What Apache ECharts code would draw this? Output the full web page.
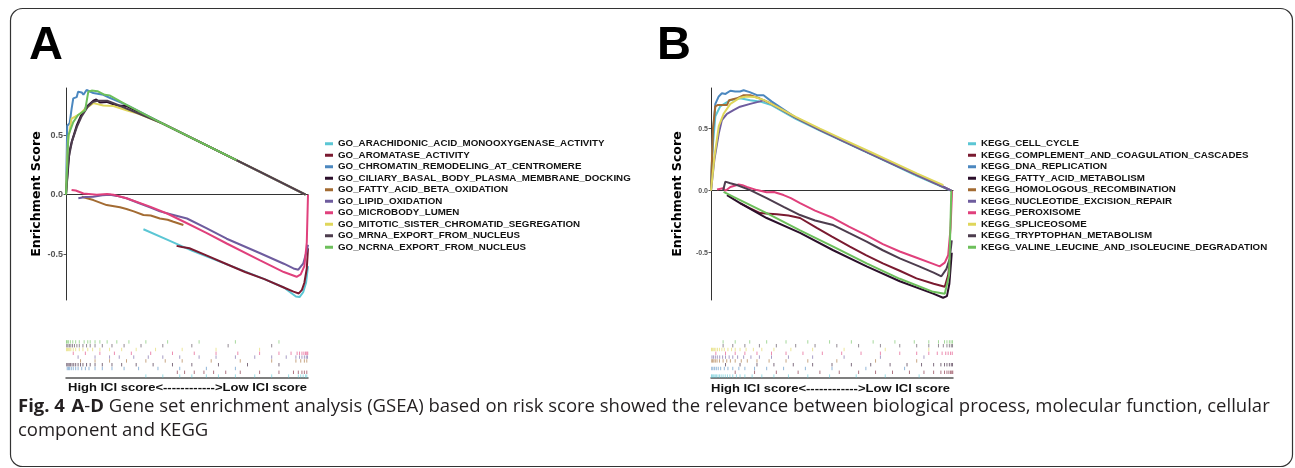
<!DOCTYPE html>
<html>
<head>
<meta charset="utf-8">
<script src="https://cdn.jsdelivr.net/npm/echarts@6/dist/echarts.min.js"></script>
<style>html,body{margin:0;padding:0;background:#fff;}#c{width:1295px;height:468px;}</style>
</head>
<body>
<div id="c"></div>
<script>
// ---------- DATA (x = rank position in %, y = enrichment score) ----------
const namesA = ['GO_ARACHIDONIC_ACID_MONOOXYGENASE_ACTIVITY','GO_AROMATASE_ACTIVITY','GO_CHROMATIN_REMODELING_AT_CENTROMERE','GO_CILIARY_BASAL_BODY_PLASMA_MEMBRANE_DOCKING','GO_FATTY_ACID_BETA_OXIDATION','GO_LIPID_OXIDATION','GO_MICROBODY_LUMEN','GO_MITOTIC_SISTER_CHROMATID_SEGREGATION','GO_MRNA_EXPORT_FROM_NUCLEUS','GO_NCRNA_EXPORT_FROM_NUCLEUS'];
const namesB = ['KEGG_CELL_CYCLE','KEGG_COMPLEMENT_AND_COAGULATION_CASCADES','KEGG_DNA_REPLICATION','KEGG_FATTY_ACID_METABOLISM','KEGG_HOMOLOGOUS_RECOMBINATION','KEGG_NUCLEOTIDE_EXCISION_REPAIR','KEGG_PEROXISOME','KEGG_SPLICEOSOME','KEGG_TRYPTOPHAN_METABOLISM','KEGG_VALINE_LEUCINE_AND_ISOLEUCINE_DEGRADATION'];
const palette = ['#5bc6d4','#7a1a30','#4b87bf','#2b0f2b','#a36b32','#6e5c9e','#e0407c','#dfd65a','#4d3d4e','#6dbf5b'];
const yTicks = [-0.5, 0, 0.5];

const goArachidonic = [[32,-0.29],[42,-0.38],[52,-0.47],[62,-0.55],[72,-0.63],[82,-0.71],[90,-0.78],[95,-0.855],[96.5,-0.86],[98,-0.82],[99.2,-0.74],[100,-0.6]];
const goAromatase = [[45.7,-0.43],[48,-0.44],[51,-0.45],[58,-0.51],[66,-0.58],[74,-0.65],[82,-0.71],[90,-0.78],[94,-0.815],[96.2,-0.83],[97.5,-0.8],[98.5,-0.74],[99.5,-0.62],[100,-0.45]];
const goChromatin = [[0,0],[0.5,0.58],[1.5,0.6],[2.3,0.72],[3,0.81],[4.4,0.82],[5,0.865],[6.5,0.86],[7.2,0.84],[8.5,0.88],[11.3,0.855],[15.4,0.84],[18,0.815],[25,0.755],[40,0.598],[60,0.396],[80,0.194],[99,0]];
const goCiliary = [[0,0],[1.4,0.36],[2.3,0.44],[4.4,0.58],[6.5,0.68],[8.5,0.74],[11.3,0.79],[12.5,0.80],[14,0.775],[16.8,0.78],[21,0.75],[25,0.745],[40,0.598],[60,0.396],[80,0.194],[99,0]];
const goFattyBeta = [[6.5,-0.017],[11.3,-0.045],[16.8,-0.087],[22.3,-0.106],[25,-0.12],[28,-0.14],[32,-0.17],[35,-0.175],[38.8,-0.2],[42,-0.21],[44.4,-0.227],[48.5,-0.255]];
const goLipid = [[5.1,-0.03],[8,-0.02],[11.3,-0.017],[15,-0.005],[18.2,0],[21,-0.01],[25,-0.03],[30,-0.07],[34.7,-0.106],[38.8,-0.14],[44.4,-0.17],[50,-0.2],[58,-0.28],[66.4,-0.37],[80,-0.49],[90,-0.58],[94,-0.62],[96,-0.63],[98,-0.58],[99.4,-0.48],[100,-0.42]];
const goMicrobody = [[2.3,0.04],[4,0.035],[7.2,0.01],[12.7,0],[17,0.005],[17.5,0.02],[19.6,0],[25,-0.03],[34.7,-0.1],[42,-0.16],[50,-0.24],[58,-0.32],[66.4,-0.41],[80,-0.55],[90,-0.65],[95.3,-0.69],[97,-0.67],[98.5,-0.6],[99.5,-0.4],[100,0]];
const goMitotic = [[0,0],[0.8,0.45],[2.3,0.64],[5.8,0.68],[7.9,0.72],[11.3,0.77],[15.4,0.75],[19.6,0.746],[25,0.71],[30,0.68],[40,0.598],[60,0.396],[80,0.194],[99,0]];
const goMrna = [[0,0],[1,0.3],[2.5,0.45],[4.5,0.57],[6.5,0.66],[9,0.74],[11,0.78],[13,0.79],[17,0.79],[22,0.75],[40,0.598],[60,0.396],[80,0.194],[99,0]];
const goNcrna = [[0,0],[1,0.5],[3,0.61],[5,0.67],[7.9,0.71],[9.2,0.865],[10.6,0.875],[13,0.87],[16,0.84],[18,0.835],[25,0.755],[40,0.598],[60,0.396],[70.5,0.29]];

const keggCellCycle = [[0,0],[0.5,0.3],[1.8,0.6],[3.8,0.68],[8,0.73],[12,0.745],[16.2,0.73],[20,0.72],[25,0.69],[35,0.58],[45,0.485],[55,0.393],[65,0.303],[75,0.213],[85,0.12],[95,0.035],[99.3,0]];
const keggComplement = [[12,-0.1],[16,-0.14],[20.3,-0.18],[24,-0.185],[27.2,-0.19],[32,-0.2],[36.8,-0.22],[43.7,-0.3],[50,-0.37],[57.4,-0.45],[64,-0.52],[71,-0.586],[78,-0.645],[84.9,-0.707],[92,-0.75],[96.6,-0.774],[98,-0.68],[98.8,-0.56]];
const keggDna = [[0,0],[0.8,0.46],[1.8,0.7],[3.2,0.76],[4.5,0.785],[6,0.78],[8,0.806],[10,0.8],[12,0.8],[13.5,0.81],[16,0.795],[19,0.77],[21.7,0.77],[25,0.72],[35,0.59],[45,0.49],[55,0.397],[65,0.307],[75,0.217],[85,0.127],[95,0.04],[99.3,0]];
const keggFatty = [[6.6,-0.035],[12,-0.1],[23,-0.22],[36.8,-0.34],[50.5,-0.48],[64.3,-0.61],[78,-0.73],[91.8,-0.83],[95.9,-0.863],[97.5,-0.85],[98.5,-0.75],[99.5,-0.5]];
const keggHomologous = [[0,0],[0.8,0.5],[1.8,0.68],[2.7,0.69],[6.6,0.69],[7.5,0.73],[10.7,0.745],[13.5,0.77],[16.2,0.77],[20,0.745],[25,0.7],[35,0.59],[45,0.49],[55,0.397],[65,0.307],[75,0.217],[85,0.127],[95,0.04],[99.3,0]];
const keggNucleotide = [[0,0],[1.4,0.25],[3.2,0.46],[4.5,0.57],[6.6,0.62],[9.3,0.65],[12,0.677],[16.2,0.7],[20.3,0.72],[21.7,0.73],[25,0.7],[35,0.59],[45,0.49],[55,0.397],[65,0.307],[75,0.217],[85,0.127],[95,0.04],[99.3,0]];
const keggPeroxisome = [[2.5,0.01],[5,0.02],[6,0],[8,0.03],[11.4,0.05],[13,0.045],[14.8,0.03],[19,0.005],[23,-0.013],[26,-0.01],[30,-0.035],[33,-0.06],[36.8,-0.1],[43,-0.16],[50.5,-0.22],[57,-0.29],[64.3,-0.36],[71,-0.43],[78,-0.49],[85,-0.54],[91.8,-0.59],[94.5,-0.61],[96.6,-0.58],[98,-0.52],[99,-0.3],[99.6,0]];
const keggSpliceosome = [[0,0],[1.4,0.27],[3.2,0.52],[5.2,0.62],[8,0.7],[12,0.75],[14.8,0.76],[18,0.755],[22,0.73],[25,0.7],[35,0.595],[45,0.5],[55,0.41],[65,0.32],[75,0.23],[85,0.14],[96,0.045]];
const keggTryptophan = [[5,0],[5.9,0.073],[8,0.06],[10.7,0.046],[16.2,0.005],[23,-0.06],[30,-0.13],[36.8,-0.196],[43,-0.24],[50.5,-0.277],[57,-0.34],[64.3,-0.41],[71,-0.48],[78,-0.546],[86,-0.61],[92,-0.66],[95.2,-0.69],[97.3,-0.63],[98.6,-0.55],[99.5,-0.4]];
const keggValine = [[5.2,-0.01],[9.3,-0.05],[23,-0.18],[36.8,-0.32],[50.5,-0.45],[64.3,-0.586],[78,-0.71],[91.8,-0.815],[96.6,-0.83],[98.4,-0.68],[99.3,0]];

// rug (hit positions in %), one list per gene set, same order as the legend
const rugA = [
  [33,40,47,52,58,63,70,78,85,92,96,97,98,99,99.5],
  [46,49,53,57,61,66,72,80,88,94,96,97.5,98.5,99.5],
  [0.5,1,1.5,2.2,3,4,5,6.5,8,9.5,12,15,19,24,30,38,47,58,70],
  [0.3,0.8,1.3,1.8,2.5,3.2,4,5,6,7,8.5,10,12,15,19,23,29,36,44,52,63,75,88],
  [6,12,18,25,33,41,48,60,72,85,95,97,98.5,99.5],
  [5,12,18,22,28,34,40,47,55,62,70,78,85,91,95,96.5,97.5,98.5,99.3,99.8],
  [3,8,14,20,27,35,44,53,62,71,80,88,93,95.5,96.5,97.5,98.3,99,99.5,99.9],
  [0.2,0.6,1,1.5,2,3,4,5.5,7,9,11,14,18,23,29,37,48,62,80],
  [0.3,0.8,1.4,2,2.7,3.5,4.5,5.5,7,8.5,10,12,15,19,24,31,40,52,67,85],
  [0.2,0.5,1,1.8,2.8,4,5.5,7.5,9,10,12,14,17,21,26,33,42,55,70,88]
];
const rugB = [
  [0.2,0.5,0.9,1.3,1.8,2.3,2.9,3.5,4.2,5,5.9,6.8,7.8,9,10.5,12,14,17,21,26,32,40,49,60,72,86],
  [10,18,27,36,45,53,61,68,75,82,88,92,95,96.5,97.5,98.3,99,99.5,99.9],
  [0.3,0.8,1.5,2.2,3,4,5.5,7,9,11.5,14,18,23,30,39,50,64,80],
  [6,12,19,26,34,42,50,58,66,74,81,87,92,95,96.5,97.5,98.5,99.3,99.8],
  [0.3,0.7,1.2,1.8,2.5,3.5,5,6.5,8,10,12.5,15,19,24,31,40,52,68,85],
  [0.4,1,1.8,2.6,3.6,4.8,6,7.5,9,11,13.5,16.5,20,25,32,42,55,70,88],
  [2,6,10,14,19,25,31,38,46,54,62,70,78,85,90,93.5,95.5,97,98,99,99.7],
  [0.2,0.5,0.9,1.4,2,2.7,3.5,4.5,5.5,7,8.5,10,12,14.5,17.5,21,26,33,42,55,72,90],
  [5,9,14,20,27,35,43,52,61,70,78,85,90,94,96,97.5,98.5,99.3,99.8],
  [5,10,16,23,31,40,49,58,67,76,84,90,94,96.5,97.5,98.5,99.2,99.8]
];

const linesA = [goArachidonic,goAromatase,goChromatin,goCiliary,goFattyBeta,goLipid,goMicrobody,goMitotic,goMrna,goNcrna];
const linesB = [keggCellCycle,keggComplement,keggDna,keggFatty,keggHomologous,keggNucleotide,keggPeroxisome,keggSpliceosome,keggTryptophan,keggValine];
const iciLabel = 'High ICI score<------------>Low ICI score';

// ---------- CHART ----------
const chart = echarts.init(document.getElementById('c'), null, {renderer:'canvas'});

function yAxisFor(gi, min, max, fs, gap) {
  return {
    type:'value', gridIndex:gi, min:min, max:max,
    name:'Enrichment Score', nameLocation:'middle', nameGap:gap,
    nameTextStyle:{fontFamily:'DejaVu Sans', fontWeight:'bold', fontSize:12.6, color:'#000'},
    axisLine:{show:true, lineStyle:{color:'#333', width:1}},
    axisTick:{show:true, length:2.5, lineStyle:{color:'#555'}, customValues:yTicks},
    axisLabel:{show:true, customValues:yTicks, margin:3, fontFamily:'Liberation Sans', fontWeight:'bold', fontSize:fs, color:'#555',
      formatter:v => v.toFixed(1)},
    splitLine:{show:false}
  };
}
function xAxisFor(gi) {
  return {type:'value', gridIndex:gi, min:0, max:100,
    axisLine:{show:true, onZero:true, lineStyle:{color:'#333', width:1.1}},
    axisTick:{show:false}, axisLabel:{show:false}, splitLine:{show:false}};
}
function rugX(gi) {
  return {type:'value', gridIndex:gi, min:0, max:100, position:'bottom',
    axisLine:{show:true, onZero:false, lineStyle:{color:'#555', width:1.5}},
    axisTick:{show:false}, axisLabel:{show:false}, splitLine:{show:false}};
}
function rugY(gi) {
  return {type:'value', gridIndex:gi, min:0, max:10, show:false};
}

const series = [];
linesA.forEach((d,i) => series.push({type:'line', name:namesA[i], xAxisIndex:0, yAxisIndex:0, data:d,
  showSymbol:false, symbol:'none', lineStyle:{width:2, color:palette[i]}, itemStyle:{color:palette[i]}, z:2+i}));
linesB.forEach((d,i) => series.push({type:'line', name:namesB[i], xAxisIndex:1, yAxisIndex:1, data:d,
  showSymbol:false, symbol:'none', lineStyle:{width:2, color:palette[i]}, itemStyle:{color:palette[i]}, z:2+i}));

function rugData(rug) {
  const out = [];
  rug.forEach((pos,i) => pos.forEach(p => out.push([p, i + 0.5, i])));
  return out;
}
function rugRender(params, api) {
  const c = api.coord([api.value(0), api.value(1)]);
  const h = api.size([0, 1])[1];
  return {type:'line', shape:{x1:c[0], y1:c[1]-h*0.45, x2:c[0], y2:c[1]+h*0.45},
    style:{stroke:palette[api.value(2)], lineWidth:1, opacity:0.6}};
}
series.push({type:'custom', xAxisIndex:2, yAxisIndex:2, data:rugData(rugA), renderItem:rugRender, silent:true});
series.push({type:'custom', xAxisIndex:3, yAxisIndex:3, data:rugData(rugB), renderItem:rugRender, silent:true});

const legendCommon = {orient:'vertical', icon:'rect', itemWidth:8, itemHeight:3, itemGap:0, padding:0,
  selectedMode:false, textStyle:{fontFamily:'Liberation Sans', fontWeight:'bold', fontSize:9.75, color:'#111', lineHeight:11.5}};

const capFont = 18.5;
const option = {
  animation:false,
  backgroundColor:'#fff',
  grid:[
    {left:66, top:88, width:242, height:212},
    {left:711, top:88, width:242, height:212},
    {left:66, top:340, width:242, height:38},
    {left:711, top:340, width:242, height:38}
  ],
  xAxis:[xAxisFor(0), xAxisFor(1), rugX(2), rugX(3)],
  yAxis:[yAxisFor(0,-0.885,0.897,9,18), yAxisFor(1,-0.881,0.828,7,27), rugY(2), rugY(3)],
  legend:[
    Object.assign({data:namesA, left:325, top:138}, legendCommon),
    Object.assign({data:namesB, left:968, top:138}, legendCommon)
  ],
  series:series,
  graphic:[
    {type:'rect', shape:{x:10.5, y:8.5, width:1282, height:458, r:12}, style:{fill:'none', stroke:'#333', lineWidth:1.2}, silent:true},
    {type:'text', x:29, y:46, style:{text:'A', font:'bold 47px "Liberation Sans"', fill:'#000', textVerticalAlign:'middle'}},
    {type:'text', x:657, y:46, style:{text:'B', font:'bold 47px "Liberation Sans"', fill:'#000', textVerticalAlign:'middle'}},
    {type:'text', x:68, y:388, scaleX:1.3, style:{text:iciLabel, font:'bold 10px "Liberation Sans"', fill:'#111', textVerticalAlign:'middle'}},
    {type:'text', x:711, y:389, scaleX:1.3, style:{text:iciLabel, font:'bold 10px "Liberation Sans"', fill:'#111', textVerticalAlign:'middle'}},
    {type:'text', x:18, y:407, style:{
      text:'{b|Fig. 4}  {b|A}{r|-}{b|D}{r| Gene set enrichment analysis (GSEA) based on risk score showed the relevance between biological process, molecular function, cellular}',
      textVerticalAlign:'middle',
      rich:{b:{fontFamily:'Open Sans', fontWeight:'bold', fontSize:capFont, fill:'#231f20'}, r:{fontFamily:'Open Sans', fontSize:capFont, fill:'#231f20'}}
    }},
    {type:'text', x:18, y:431, style:{text:'component and KEGG', font:capFont + 'px "Open Sans"', fill:'#231f20', textVerticalAlign:'middle'}}
  ]
};
chart.setOption(option);
</script>
</body>
</html>
